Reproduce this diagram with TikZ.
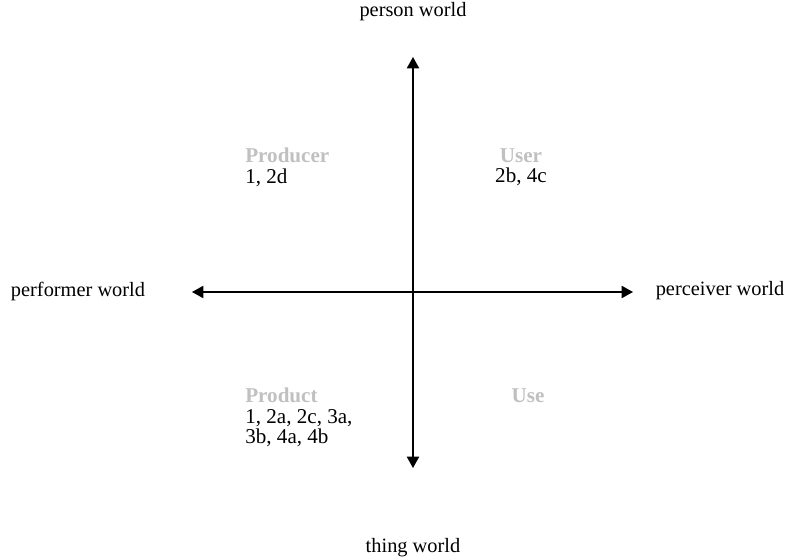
\documentclass[tikz,border=0pt]{standalone}
\usepackage{fontspec}
\setmainfont{Liberation Serif}
\usetikzlibrary{arrows.meta}
\definecolor{cgrey}{HTML}{C0C0C0}
\tikzset{
  axis/.style={{Triangle[length=6.5pt, width=7pt]}-{Triangle[length=6.5pt, width=7pt]}, line width=0.8pt},
  pole/.style={font=\fontsize{11.6}{14}\selectfont, inner sep=0pt},
  quad/.style={font=\fontsize{12}{11.4}\selectfont, inner sep=0pt},
}

\begin{document}
\begin{tikzpicture}[x=0.02cm, y=-0.02cm]
  \useasboundingbox (0,0) rectangle (787,560);
  % the four poles
  \node[pole] (person) at (413,12) {person world};
  \node[pole] (thing) at (413,548) {thing world};
  \node[pole] (performer) at (78,291) {performer world};
  \node[pole] (perceiver) at (720,291) {perceiver world};
  % axis ends
  \coordinate (up) at (413,57);
  \coordinate (down) at (413,468);
  \coordinate (left) at (192,292);
  \coordinate (right) at (633,292);
  \draw[axis] (down) -- (up);
  \draw[axis] (left) -- (right);
  % quadrants
  \node[quad, anchor=north west, align=left] (producer) at (245,148) {\textcolor{cgrey}{\textbf{Producer}}\\1, 2d};
  \node[quad, anchor=north, align=center] (user) at (521,148) {\textcolor{cgrey}{\textbf{User}}\\2b, 4c};
  \node[quad, anchor=north west, align=left] (product) at (245,388) {\textcolor{cgrey}{\textbf{Product}}\\1, 2a, 2c, 3a,\\3b, 4a, 4b};
  \node[quad, anchor=north] (use) at (528,388) {\textcolor{cgrey}{\textbf{Use}}};
\end{tikzpicture}
\end{document}
